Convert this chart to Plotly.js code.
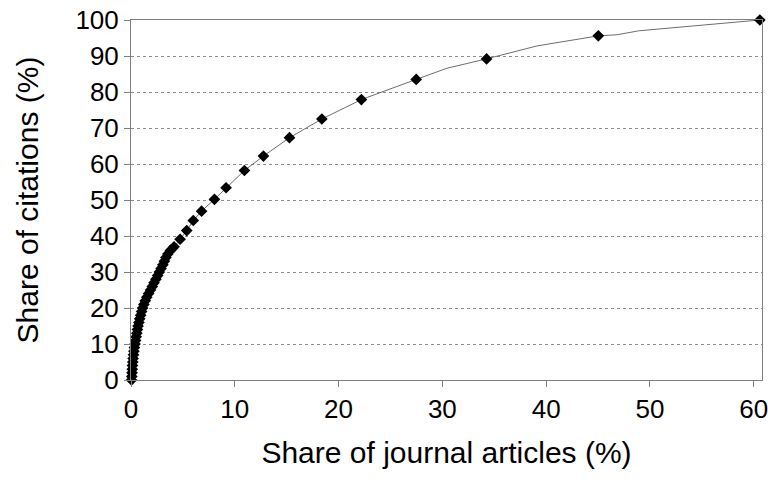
<!DOCTYPE html>
<html>
<head>
<meta charset="utf-8">
<script src="https://cdn.plot.ly/plotly-3.0.1.min.js"></script>
<style>
  html, body { margin: 0; padding: 0; background: #ffffff; }
  #chart { width: 768px; height: 480px; }
</style>
</head>
<body>
<div id="chart"></div>
<script>
// Cumulative share of journal articles (x, %) against cumulative share of citations (y, %).
// Journals that carry a marker on the curve.
var articleShare = [
  0.05, 0.08, 0.10, 0.12, 0.14, 0.17, 0.20, 0.24, 0.28, 0.33,
  0.39, 0.44, 0.50, 0.56, 0.62, 0.68, 0.76, 0.84, 0.93, 1.02,
  1.12, 1.24, 1.37, 1.52, 1.70, 1.88, 2.05, 2.22, 2.40, 2.57,
  2.73, 2.90, 3.07, 3.22, 3.36, 3.55, 3.80,
  4.15, 4.73, 5.37, 6.00, 6.80, 8.04, 9.16, 10.93, 12.76,
  15.27, 18.39, 22.20, 27.48, 34.26, 45.03, 60.59
];
var citationShare = [
  0, 1, 2, 3, 4, 5, 6, 7, 8, 9,
  10, 11, 12, 13, 14, 15, 16, 17, 18, 19,
  20, 21, 22, 23, 24, 25, 26, 27, 28, 29,
  30, 31, 32, 33, 34, 35, 36,
  37.0, 39.1, 41.5, 44.3, 46.9, 50.2, 53.4, 58.2, 62.2,
  67.3, 72.5, 77.9, 83.5, 89.2, 95.6, 100
];

// Further vertices of the curve between the marked journals.
var pathArticleShare = [30.44, 39.12, 46.84, 48.92];
var pathCitationShare = [86.6, 92.8, 95.9, 97.0];

// Axis ticks
var xTicks = [0, 10, 20, 30, 40, 50, 60];
var yTicks = [0, 10, 20, 30, 40, 50, 60, 70, 80, 90, 100];

// The connecting line runs through every vertex in order of x.
var curve = articleShare.map(function (x, i) { return [x, citationShare[i]]; })
  .concat(pathArticleShare.map(function (x, i) { return [x, pathCitationShare[i]]; }))
  .sort(function (a, b) { return a[0] - b[0]; });

var FONT = '"Liberation Sans", Arial, sans-serif';

var traces = [
  {
    type: 'scatter',
    mode: 'lines',
    x: curve.map(function (p) { return p[0]; }),
    y: curve.map(function (p) { return p[1]; }),
    line: { color: '#6e6e6e', width: 1 },
    hoverinfo: 'skip',
    cliponaxis: false
  },
  {
    type: 'scatter',
    mode: 'markers',
    x: articleShare,
    y: citationShare,
    marker: { symbol: 'diamond', size: 9, color: '#000000', line: { width: 0 } },
    cliponaxis: false
  }
];

var layout = {
  width: 768,
  height: 480,
  margin: { l: 131, r: 6, t: 20, b: 100, pad: 0 },
  paper_bgcolor: '#ffffff',
  plot_bgcolor: '#ffffff',
  showlegend: false,
  font: { family: FONT, color: '#000000' },
  xaxis: {
    range: [0, 60.8],
    tickvals: xTicks,
    ticktext: xTicks.map(String),
    ticks: 'outside',
    ticklen: 6,
    tickwidth: 1,
    tickcolor: '#808080',
    ticklabeloverflow: 'allow',
    showline: true,
    linecolor: '#808080',
    linewidth: 1,
    mirror: true,
    showgrid: false,
    zeroline: false,
    tickfont: { family: FONT, size: 26, color: '#000000' },
    title: { text: 'Share of journal articles (%)', font: { family: FONT, size: 30, color: '#000000' }, standoff: 18 }
  },
  yaxis: {
    range: [0, 100],
    tickvals: yTicks,
    ticktext: yTicks.map(String),
    ticks: 'outside',
    ticklen: 6,
    tickwidth: 1,
    tickcolor: '#808080',
    ticklabeloverflow: 'allow',
    showline: true,
    linecolor: '#808080',
    linewidth: 1,
    mirror: true,
    showgrid: true,
    gridcolor: '#8c8c8c',
    gridwidth: 1,
    griddash: '3px,3px',
    zeroline: false,
    tickfont: { family: FONT, size: 26, color: '#000000' },
    title: { text: 'Share of citations (%)', font: { family: FONT, size: 30, color: '#000000' }, standoff: 27 }
  }
};

Plotly.newPlot('chart', traces, layout, { staticPlot: true, displayModeBar: false });
</script>
</body>
</html>
